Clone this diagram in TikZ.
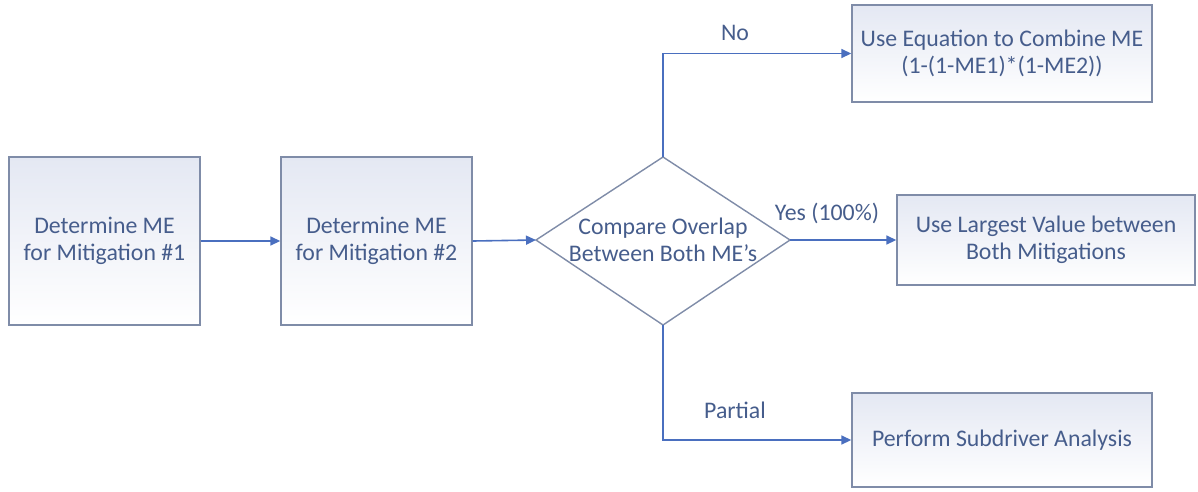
\documentclass[tikz,border=0pt]{standalone}
\usepackage{fontspec}
\setmainfont{Carlito}
\usetikzlibrary{shapes.geometric,arrows.meta,positioning}
\definecolor{bordc}{HTML}{7F8CA8}
\definecolor{txtc}{HTML}{465D8C}
\definecolor{arrc}{HTML}{4A6FBF}
\definecolor{topc}{HTML}{E4E8F3}
\tikzset{
  txt/.style={text=txtc, font=\fontsize{23.8}{27}\selectfont},
  box/.style={txt, draw=bordc, line width=1.4pt, top color=topc, bottom color=white, align=center, inner sep=0pt},
  conn/.style={draw=arrc, line width=1.6pt, -{Triangle[length=10pt,width=9pt]}},
}
\begin{document}
\begin{tikzpicture}[x=1pt,y=1pt]
\useasboundingbox (0,0) rectangle (1198,-491);
\node[box, minimum width=191pt, minimum height=168pt] (b1) at (104.5,-241) {Determine ME\\for Mitigation \#1};
\node[box, minimum width=191pt, minimum height=168pt] (b2) at (376.5,-241) {Determine ME\\for Mitigation \#2};
\path[draw=bordc, line width=1.4pt, fill=white] (536,-240) -- (663,-157) -- (790,-240) -- (663,-325) -- cycle;
\node[txt, align=center] (d) at (663,-240) {Compare Overlap\\Between Both ME’s};
\coordinate (dl) at (536,-240);
\coordinate (dt) at (663,-157);
\coordinate (dr) at (790,-240);
\coordinate (db) at (663,-325);
\node[box, minimum width=300pt, minimum height=97pt] (b3) at (1002,-53.5) {Use Equation to Combine ME\\(1-(1-ME1)*(1-ME2))};
\node[box, minimum width=298pt, minimum height=90pt] (b4) at (1046,-240) {Use Largest Value between\\Both Mitigations};
\node[box, minimum width=300pt, minimum height=94pt] (b5) at (1002,-440) {Perform Subdriver Analysis};
\draw[conn] (b1.east) -- (b2.west);
\draw[conn] (b2.east) -- (dl);
\draw[conn] (dt) |- (b3.west);
\draw[conn] (dr) -- (b4.west);
\draw[conn] (db) |- (b5.west);
\node[txt] (lno) at (735,-33) {No};
\node[txt] (lyes) at (827,-213) {Yes (100\%)};
\node[txt] (lpart) at (735,-410) {Partial};
\end{tikzpicture}
\end{document}
